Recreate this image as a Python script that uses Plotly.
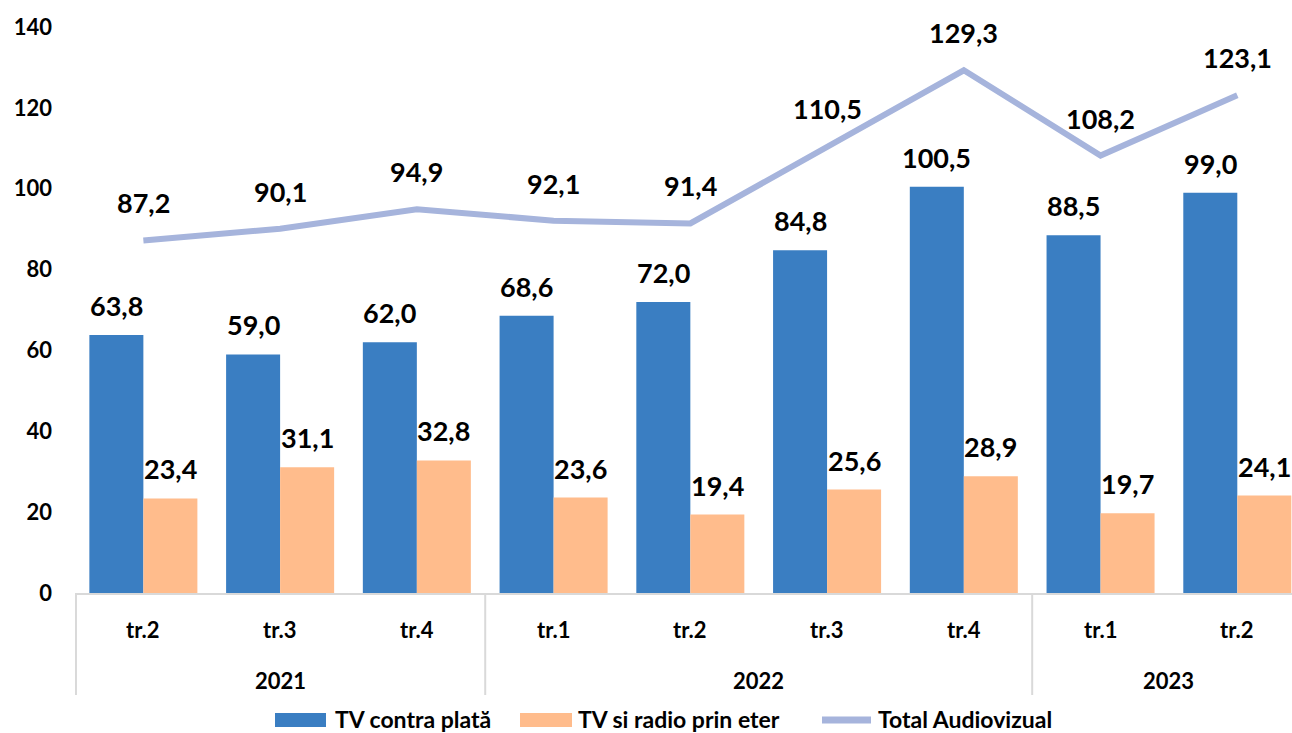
import plotly.graph_objects as go

# Quarterly revenue of audiovisual services (mil. lei)
quarters = ["tr.2", "tr.3", "tr.4", "tr.1", "tr.2", "tr.3", "tr.4", "tr.1", "tr.2"]
years = ["2021", "2021", "2021", "2022", "2022", "2022", "2022", "2023", "2023"]
tv_plata = [63.8, 59.0, 62.0, 68.6, 72.0, 84.8, 100.5, 88.5, 99.0]
tv_radio_eter = [23.4, 31.1, 32.8, 23.6, 19.4, 25.6, 28.9, 19.7, 24.1]
total_audiovizual = [87.2, 90.1, 94.9, 92.1, 91.4, 110.5, 129.3, 108.2, 123.1]
y_ticks = [0, 20, 40, 60, 80, 100, 120, 140]

series_names = ["TV contra plată", "TV si radio prin eter", "Total Audiovizual"]
BLUE = "#3A7EC2"
ORANGE = "#FFBC8C"
LAVENDER = "#A6B4DC"
GRID = "#D9D9D9"
FONT = "Lato"

W, H = 1292, 733
ML, MR, MT, MB = 75, 0, 27, 140
PW, PH = W - ML - MR, H - MT - MB


def px_x(px):
    return (px - ML) / PW


def px_y(py):
    return (H - MB - py) / PH


def fmt(v):
    return f"{v:.1f}".replace(".", ",")


cats = [f"{y} {q}" for y, q in zip(years, quarters)]

fig = go.Figure()
fig.add_trace(go.Bar(x=cats, y=tv_plata, name=series_names[0],
                     marker=dict(color=BLUE, line=dict(width=0))))
fig.add_trace(go.Bar(x=cats, y=tv_radio_eter, name=series_names[1],
                     marker=dict(color=ORANGE, line=dict(width=0))))
fig.add_trace(go.Scatter(x=cats, y=total_audiovizual, name=series_names[2],
                         mode="lines", line=dict(color=LAVENDER, width=6)))

label_font = dict(family=FONT, size=27, color="black", weight="bold")
axis_font = dict(family=FONT, size=22, color="black", weight="bold")
legend_font = dict(family=FONT, size=23, color="black", weight="bold")

annotations = []
# value labels
for c, a, b, t in zip(cats, tv_plata, tv_radio_eter, total_audiovizual):
    annotations.append(dict(x=c, y=a, text=fmt(a), xshift=-27, yshift=11,
                            yanchor="bottom", showarrow=False, font=label_font))
    annotations.append(dict(x=c, y=b, text=fmt(b), xshift=27, yshift=11,
                            yanchor="bottom", showarrow=False, font=label_font))
    annotations.append(dict(x=c, y=t, text=fmt(t), yshift=19,
                            yanchor="bottom", showarrow=False, font=label_font))

# quarter labels
for i, q in enumerate(quarters):
    annotations.append(dict(x=i, xref="x", y=px_y(629), yref="paper", text=q,
                            yanchor="middle", showarrow=False, font=axis_font))

# year labels and group dividers
shapes = []
groups = []
for i, y in enumerate(years):
    if not groups or groups[-1][0] != y:
        groups.append([y, i, i])
    else:
        groups[-1][2] = i
for y, first, last in groups:
    annotations.append(dict(x=(first + last) / 2, xref="x", y=px_y(680), yref="paper",
                            text=y, yanchor="middle", showarrow=False, font=axis_font))
    x0 = first - 0.5 if first > 0 else -0.493
    shapes.append(dict(type="line", xref="x", yref="paper", x0=x0, x1=x0,
                       y0=0, y1=px_y(695), line=dict(color=GRID, width=2)))

# legend
leg_y = px_y(719)
shapes.append(dict(type="rect", xref="paper", yref="paper",
                   x0=px_x(275), x1=px_x(326), y0=px_y(713), y1=px_y(727),
                   fillcolor=BLUE, line=dict(width=0)))
shapes.append(dict(type="rect", xref="paper", yref="paper",
                   x0=px_x(520), x1=px_x(572), y0=px_y(713), y1=px_y(727),
                   fillcolor=ORANGE, line=dict(width=0)))
shapes.append(dict(type="line", xref="paper", yref="paper",
                   x0=px_x(822), x1=px_x(871), y0=px_y(720), y1=px_y(720),
                   line=dict(color=LAVENDER, width=7)))
for name, xs in zip(series_names, [333, 576, 876]):
    annotations.append(dict(x=px_x(xs), xref="paper", y=leg_y, yref="paper",
                            text=name, xanchor="left", yanchor="middle",
                            showarrow=False, font=legend_font))

fig.update_layout(
    width=W, height=H,
    margin=dict(l=ML, r=MR, t=MT, b=MB, pad=0),
    paper_bgcolor="white", plot_bgcolor="white",
    barmode="group", bargap=0.21, bargroupgap=0,
    showlegend=False,
    annotations=annotations,
    shapes=shapes,
    xaxis=dict(type="category", range=[-0.5, 8.4], showticklabels=False,
               showline=True, linecolor=GRID, linewidth=2, showgrid=False,
               zeroline=False, ticks="", automargin=False),
    yaxis=dict(range=[0, 140], tickvals=y_ticks, ticktext=[str(v) for v in y_ticks],
               showgrid=False, zeroline=False, showline=False, ticks="",
               tickfont=axis_font, ticklabelstandoff=22, automargin=False),
)

fig.write_html("out.html")
